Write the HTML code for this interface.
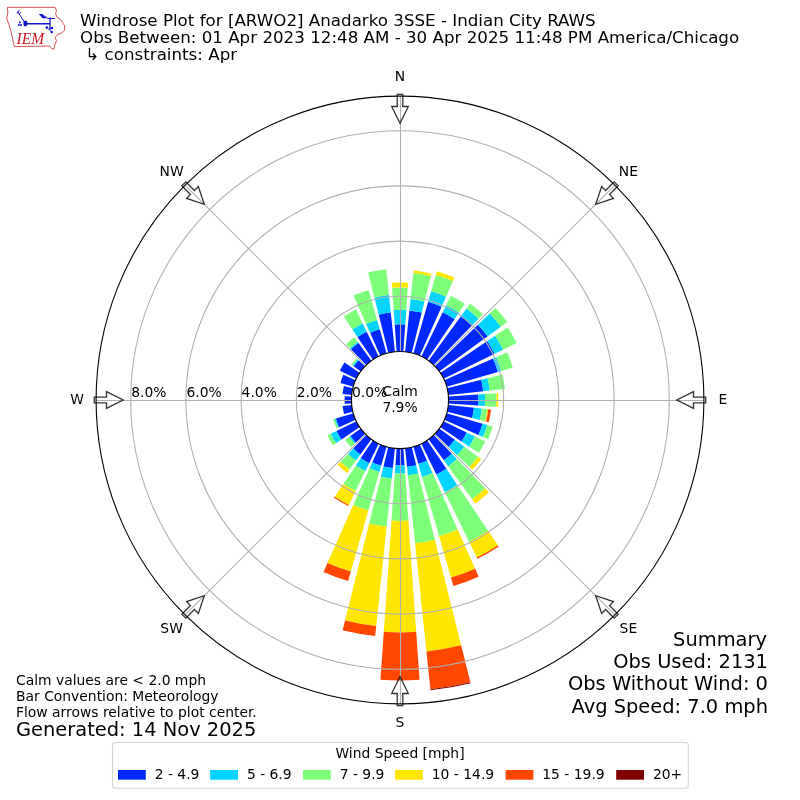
<!DOCTYPE html>
<html><head><meta charset="utf-8"><title>Windrose Plot</title>
<style>html,body{margin:0;padding:0;background:#fff}svg{display:block}text{font-family:"DejaVu Sans","Liberation Sans",sans-serif;fill:#000}</style>
</head><body>
<svg width="800" height="800" viewBox="0 0 800 800">
<rect width="800" height="800" fill="#fff"/>
<g shape-rendering="geometricPrecision">
<path d="M396.62 351.62L394.72 324.48A75.70 75.70 0 0 1 405.28 324.48L403.38 351.62A48.50 48.50 0 0 0 396.62 351.62Z" fill="#0028ff"/>
<path d="M394.72 324.48L393.71 310.12A90.10 90.10 0 0 1 406.29 310.12L405.28 324.48A75.70 75.70 0 0 0 394.72 324.48Z" fill="#00d4ff"/>
<path d="M393.71 310.12L392.15 287.77A112.50 112.50 0 0 1 407.85 287.77L406.29 310.12A90.10 90.10 0 0 0 393.71 310.12Z" fill="#7dff7a"/>
<path d="M392.15 287.77L391.80 282.69A117.60 117.60 0 0 1 408.20 282.69L407.85 287.77A112.50 112.50 0 0 0 392.15 287.77Z" fill="#ffe600"/>
<path d="M405.07 351.77L409.42 310.39A90.10 90.10 0 0 1 421.80 312.58L411.73 352.94A48.50 48.50 0 0 0 405.07 351.77Z" fill="#0028ff"/>
<path d="M409.42 310.39L410.62 298.96A101.60 101.60 0 0 1 424.58 301.42L421.80 312.58A90.10 90.10 0 0 0 409.42 310.39Z" fill="#00d4ff"/>
<path d="M410.62 298.96L413.34 273.10A127.60 127.60 0 0 1 430.87 276.19L424.58 301.42A101.60 101.60 0 0 0 410.62 298.96Z" fill="#7dff7a"/>
<path d="M413.34 273.10L413.60 270.61A130.10 130.10 0 0 1 431.47 273.76L430.87 276.19A127.60 127.60 0 0 0 413.34 273.10Z" fill="#ffe600"/>
<path d="M413.37 353.38L428.17 301.76A102.20 102.20 0 0 1 441.57 306.64L419.73 355.69A48.50 48.50 0 0 0 413.37 353.38Z" fill="#0028ff"/>
<path d="M428.17 301.76L431.17 291.28A113.10 113.10 0 0 1 446.00 296.68L441.57 306.64A102.20 102.20 0 0 0 428.17 301.76Z" fill="#00d4ff"/>
<path d="M431.17 291.28L435.86 274.94A130.10 130.10 0 0 1 452.92 281.15L446.00 296.68A113.10 113.10 0 0 0 431.17 291.28Z" fill="#7dff7a"/>
<path d="M435.86 274.94L436.94 271.19A134.00 134.00 0 0 1 454.50 277.58L452.92 281.15A130.10 130.10 0 0 0 435.86 274.94Z" fill="#ffe600"/>
<path d="M421.26 356.41L442.74 312.37A97.50 97.50 0 0 1 454.52 319.17L427.12 359.79A48.50 48.50 0 0 0 421.26 356.41Z" fill="#0028ff"/>
<path d="M442.74 312.37L446.20 305.27A105.40 105.40 0 0 1 458.94 312.62L454.52 319.17A97.50 97.50 0 0 0 442.74 312.37Z" fill="#00d4ff"/>
<path d="M446.20 305.27L450.81 295.83A115.90 115.90 0 0 1 464.81 303.91L458.94 312.62A105.40 105.40 0 0 0 446.20 305.27Z" fill="#7dff7a"/>
<path d="M428.51 360.76L461.07 315.94A103.90 103.90 0 0 1 472.18 325.26L433.69 365.11A48.50 48.50 0 0 0 428.51 360.76Z" fill="#0028ff"/>
<path d="M461.07 315.94L466.48 308.50A113.10 113.10 0 0 1 478.57 318.64L472.18 325.26A103.90 103.90 0 0 0 461.07 315.94Z" fill="#00d4ff"/>
<path d="M466.48 308.50L470.12 303.48A119.30 119.30 0 0 1 482.87 314.18L478.57 318.64A113.10 113.10 0 0 0 466.48 308.50Z" fill="#7dff7a"/>
<path d="M434.89 366.31L477.90 324.77A108.30 108.30 0 0 1 487.62 336.34L439.24 371.49A48.50 48.50 0 0 0 434.89 366.31Z" fill="#0028ff"/>
<path d="M477.90 324.77L489.70 313.38A124.70 124.70 0 0 1 500.88 326.70L487.62 336.34A108.30 108.30 0 0 0 477.90 324.77Z" fill="#00d4ff"/>
<path d="M489.70 313.38L495.38 307.89A132.60 132.60 0 0 1 507.28 322.06L500.88 326.70A124.70 124.70 0 0 0 489.70 313.38Z" fill="#7dff7a"/>
<path d="M440.21 372.88L487.30 341.12A105.30 105.30 0 0 1 494.64 353.84L443.59 378.74A48.50 48.50 0 0 0 440.21 372.88Z" fill="#0028ff"/>
<path d="M487.30 341.12L495.09 335.86A114.70 114.70 0 0 1 503.09 349.72L494.64 353.84A105.30 105.30 0 0 0 487.30 341.12Z" fill="#00d4ff"/>
<path d="M495.09 335.86L507.61 327.42A129.80 129.80 0 0 1 516.66 343.10L503.09 349.72A114.70 114.70 0 0 0 495.09 335.86Z" fill="#7dff7a"/>
<path d="M444.31 380.27L493.00 358.59A101.80 101.80 0 0 1 497.86 371.94L446.62 386.63A48.50 48.50 0 0 0 444.31 380.27Z" fill="#0028ff"/>
<path d="M493.00 358.59L496.29 357.13A105.40 105.40 0 0 1 501.32 370.95L497.86 371.94A101.80 101.80 0 0 0 493.00 358.59Z" fill="#00d4ff"/>
<path d="M496.29 357.13L507.16 352.29A117.30 117.30 0 0 1 512.76 367.67L501.32 370.95A105.40 105.40 0 0 0 496.29 357.13Z" fill="#7dff7a"/>
<path d="M447.06 388.27L481.21 379.75A83.70 83.70 0 0 1 483.24 391.25L448.23 394.93A48.50 48.50 0 0 0 447.06 388.27Z" fill="#0028ff"/>
<path d="M481.21 379.75L487.62 378.15A90.30 90.30 0 0 1 489.81 390.56L483.24 391.25A83.70 83.70 0 0 0 481.21 379.75Z" fill="#00d4ff"/>
<path d="M487.62 378.15L502.46 374.45A105.60 105.60 0 0 1 505.02 388.96L489.81 390.56A90.30 90.30 0 0 0 487.62 378.15Z" fill="#7dff7a"/>
<path d="M448.38 396.62L478.21 394.53A78.40 78.40 0 0 1 478.21 405.47L448.38 403.38A48.50 48.50 0 0 0 448.38 396.62Z" fill="#0028ff"/>
<path d="M478.21 394.53L484.89 394.06A85.10 85.10 0 0 1 484.89 405.94L478.21 405.47A78.40 78.40 0 0 0 478.21 394.53Z" fill="#00d4ff"/>
<path d="M484.89 394.06L496.26 393.27A96.50 96.50 0 0 1 496.26 406.73L484.89 405.94A85.10 85.10 0 0 0 484.89 394.06Z" fill="#7dff7a"/>
<path d="M496.26 393.27L498.16 393.14A98.40 98.40 0 0 1 498.16 406.86L496.26 406.73A96.50 96.50 0 0 0 496.26 393.27Z" fill="#ffe600"/>
<path d="M448.23 405.07L473.99 407.78A74.40 74.40 0 0 1 472.19 418.00L447.06 411.73A48.50 48.50 0 0 0 448.23 405.07Z" fill="#0028ff"/>
<path d="M473.99 407.78L481.75 408.59A82.20 82.20 0 0 1 479.76 419.89L472.19 418.00A74.40 74.40 0 0 0 473.99 407.78Z" fill="#00d4ff"/>
<path d="M481.75 408.59L487.12 409.16A87.60 87.60 0 0 1 485.00 421.19L479.76 419.89A82.20 82.20 0 0 0 481.75 408.59Z" fill="#7dff7a"/>
<path d="M487.12 409.16L488.21 409.27A88.70 88.70 0 0 1 486.07 421.46L485.00 421.19A87.60 87.60 0 0 0 487.12 409.16Z" fill="#ffe600"/>
<path d="M488.21 409.27L491.00 409.56A91.50 91.50 0 0 1 488.78 422.14L486.07 421.46A88.70 88.70 0 0 0 488.21 409.27Z" fill="#ff4700"/>
<path d="M446.62 413.37L482.57 423.68A85.90 85.90 0 0 1 478.47 434.94L444.31 419.73A48.50 48.50 0 0 0 446.62 413.37Z" fill="#0028ff"/>
<path d="M482.57 423.68L487.28 425.03A90.80 90.80 0 0 1 482.95 436.93L478.47 434.94A85.90 85.90 0 0 0 482.57 423.68Z" fill="#00d4ff"/>
<path d="M487.28 425.03L492.76 426.60A96.50 96.50 0 0 1 488.16 439.25L482.95 436.93A90.80 90.80 0 0 0 487.28 425.03Z" fill="#7dff7a"/>
<path d="M443.59 421.26L466.69 432.53A74.20 74.20 0 0 1 461.51 441.49L440.21 427.12A48.50 48.50 0 0 0 443.59 421.26Z" fill="#0028ff"/>
<path d="M466.69 432.53L475.05 436.60A83.50 83.50 0 0 1 469.22 446.69L461.51 441.49A74.20 74.20 0 0 0 466.69 432.53Z" fill="#00d4ff"/>
<path d="M475.05 436.60L485.30 441.60A94.90 94.90 0 0 1 478.68 453.07L469.22 446.69A83.50 83.50 0 0 0 475.05 436.60Z" fill="#7dff7a"/>
<path d="M439.24 428.51L454.77 439.79A67.70 67.70 0 0 1 448.70 447.03L434.89 433.69A48.50 48.50 0 0 0 439.24 428.51Z" fill="#0028ff"/>
<path d="M454.77 439.79L464.24 446.67A79.40 79.40 0 0 1 457.12 455.16L448.70 447.03A67.70 67.70 0 0 0 454.77 439.79Z" fill="#00d4ff"/>
<path d="M464.24 446.67L478.15 456.78A96.60 96.60 0 0 1 469.49 467.10L457.12 455.16A79.40 79.40 0 0 0 464.24 446.67Z" fill="#7dff7a"/>
<path d="M478.15 456.78L481.31 459.07A100.50 100.50 0 0 1 472.29 469.81L469.49 467.10A96.60 96.60 0 0 0 478.15 456.78Z" fill="#ffe600"/>
<path d="M433.69 434.89L451.82 453.66A74.60 74.60 0 0 1 443.85 460.35L428.51 439.24A48.50 48.50 0 0 0 433.69 434.89Z" fill="#0028ff"/>
<path d="M451.82 453.66L456.89 458.91A81.90 81.90 0 0 1 448.14 466.26L443.85 460.35A74.60 74.60 0 0 0 451.82 453.66Z" fill="#00d4ff"/>
<path d="M456.89 458.91L485.30 488.33A122.80 122.80 0 0 1 472.18 499.35L448.14 466.26A81.90 81.90 0 0 0 456.89 458.91Z" fill="#7dff7a"/>
<path d="M485.30 488.33L488.99 492.15A128.10 128.10 0 0 1 475.30 503.64L472.18 499.35A122.80 122.80 0 0 0 485.30 488.33Z" fill="#ffe600"/>
<path d="M427.12 440.21L446.36 468.73A82.90 82.90 0 0 1 436.34 474.51L421.26 443.59A48.50 48.50 0 0 0 427.12 440.21Z" fill="#0028ff"/>
<path d="M446.36 468.73L457.32 484.98A102.50 102.50 0 0 1 444.93 492.13L436.34 474.51A82.90 82.90 0 0 0 446.36 468.73Z" fill="#00d4ff"/>
<path d="M457.32 484.98L488.13 530.66A157.60 157.60 0 0 1 469.09 541.65L444.93 492.13A102.50 102.50 0 0 0 457.32 484.98Z" fill="#7dff7a"/>
<path d="M488.13 530.66L497.91 545.16A175.10 175.10 0 0 1 476.76 557.38L469.09 541.65A157.60 157.60 0 0 0 488.13 530.66Z" fill="#ffe600"/>
<path d="M497.91 545.16L498.75 546.41A176.60 176.60 0 0 1 477.42 558.73L476.76 557.38A175.10 175.10 0 0 0 497.91 545.16Z" fill="#ff4700"/>
<path d="M419.73 444.31L427.01 460.66A66.40 66.40 0 0 1 418.30 463.83L413.37 446.62A48.50 48.50 0 0 0 419.73 444.31Z" fill="#0028ff"/>
<path d="M427.01 460.66L432.54 473.08A80.00 80.00 0 0 1 422.05 476.90L418.30 463.83A66.40 66.40 0 0 0 427.01 460.66Z" fill="#00d4ff"/>
<path d="M432.54 473.08L457.68 529.54A141.80 141.80 0 0 1 439.09 536.31L422.05 476.90A80.00 80.00 0 0 0 432.54 473.08Z" fill="#7dff7a"/>
<path d="M457.68 529.54L475.12 568.73A184.70 184.70 0 0 1 450.91 577.55L439.09 536.31A141.80 141.80 0 0 0 457.68 529.54Z" fill="#ffe600"/>
<path d="M475.12 568.73L478.74 576.86A193.60 193.60 0 0 1 453.36 586.10L450.91 577.55A184.70 184.70 0 0 0 475.12 568.73Z" fill="#ff4700"/>
<path d="M411.73 447.06L416.26 465.20A67.20 67.20 0 0 1 407.02 466.83L405.07 448.23A48.50 48.50 0 0 0 411.73 447.06Z" fill="#0028ff"/>
<path d="M416.26 465.20L418.31 473.45A75.70 75.70 0 0 1 407.91 475.29L407.02 466.83A67.20 67.20 0 0 0 416.26 465.20Z" fill="#00d4ff"/>
<path d="M418.31 473.45L434.84 539.72A144.00 144.00 0 0 1 415.05 543.21L407.91 475.29A75.70 75.70 0 0 0 418.31 473.45Z" fill="#7dff7a"/>
<path d="M434.84 539.72L461.16 645.29A252.80 252.80 0 0 1 426.42 651.42L415.05 543.21A144.00 144.00 0 0 0 434.84 539.72Z" fill="#ffe600"/>
<path d="M461.16 645.29L470.38 682.26A290.90 290.90 0 0 1 430.41 689.31L426.42 651.42A252.80 252.80 0 0 0 461.16 645.29Z" fill="#ff4700"/>
<path d="M470.38 682.26L470.62 683.23A291.90 291.90 0 0 1 430.51 690.30L430.41 689.31A290.90 290.90 0 0 0 470.38 682.26Z" fill="#800000"/>
<path d="M403.38 448.38L404.56 465.24A65.40 65.40 0 0 1 395.44 465.24L396.62 448.38A48.50 48.50 0 0 0 403.38 448.38Z" fill="#0028ff"/>
<path d="M404.56 465.24L405.13 473.32A73.50 73.50 0 0 1 394.87 473.32L395.44 465.24A65.40 65.40 0 0 0 404.56 465.24Z" fill="#00d4ff"/>
<path d="M405.13 473.32L408.43 520.61A120.90 120.90 0 0 1 391.57 520.61L394.87 473.32A73.50 73.50 0 0 0 405.13 473.32Z" fill="#7dff7a"/>
<path d="M408.43 520.61L416.21 631.83A232.40 232.40 0 0 1 383.79 631.83L391.57 520.61A120.90 120.90 0 0 0 408.43 520.61Z" fill="#ffe600"/>
<path d="M416.21 631.83L419.57 679.82A280.50 280.50 0 0 1 380.43 679.82L383.79 631.83A232.40 232.40 0 0 0 416.21 631.83Z" fill="#ff4700"/>
<path d="M394.93 448.23L392.84 468.12A68.50 68.50 0 0 1 383.43 466.47L388.27 447.06A48.50 48.50 0 0 0 394.93 448.23Z" fill="#0028ff"/>
<path d="M392.84 468.12L391.75 478.47A78.90 78.90 0 0 1 380.91 476.56L383.43 466.47A68.50 68.50 0 0 0 392.84 468.12Z" fill="#00d4ff"/>
<path d="M391.75 478.47L386.69 526.60A127.30 127.30 0 0 1 369.20 523.52L380.91 476.56A78.90 78.90 0 0 0 391.75 478.47Z" fill="#7dff7a"/>
<path d="M386.69 526.60L376.25 625.96A227.20 227.20 0 0 1 345.04 620.45L369.20 523.52A127.30 127.30 0 0 0 386.69 526.60Z" fill="#ffe600"/>
<path d="M376.25 625.96L375.20 636.00A237.30 237.30 0 0 1 342.59 630.25L345.04 620.45A227.20 227.20 0 0 0 376.25 625.96Z" fill="#ff4700"/>
<path d="M386.63 446.62L381.17 465.65A68.30 68.30 0 0 1 372.22 462.40L380.27 444.31A48.50 48.50 0 0 0 386.63 446.62Z" fill="#0028ff"/>
<path d="M381.17 465.65L379.38 471.90A74.80 74.80 0 0 1 369.58 468.33L372.22 462.40A68.30 68.30 0 0 0 381.17 465.65Z" fill="#00d4ff"/>
<path d="M379.38 471.90L368.36 510.35A114.80 114.80 0 0 1 353.31 504.88L369.58 468.33A74.80 74.80 0 0 0 379.38 471.90Z" fill="#7dff7a"/>
<path d="M368.36 510.35L350.85 571.39A178.30 178.30 0 0 1 327.48 562.89L353.31 504.88A114.80 114.80 0 0 0 368.36 510.35Z" fill="#ffe600"/>
<path d="M350.85 571.39L348.13 580.91A188.20 188.20 0 0 1 323.45 571.93L327.48 562.89A178.30 178.30 0 0 0 350.85 571.39Z" fill="#ff4700"/>
<path d="M378.74 443.59L369.14 463.28A70.40 70.40 0 0 1 360.63 458.36L372.88 440.21A48.50 48.50 0 0 0 378.74 443.59Z" fill="#0028ff"/>
<path d="M369.14 463.28L365.41 470.91A78.90 78.90 0 0 1 355.88 465.41L360.63 458.36A70.40 70.40 0 0 0 369.14 463.28Z" fill="#00d4ff"/>
<path d="M365.41 470.91L355.59 491.05A101.30 101.30 0 0 1 343.35 483.98L355.88 465.41A78.90 78.90 0 0 0 365.41 470.91Z" fill="#7dff7a"/>
<path d="M355.59 491.05L348.80 504.98A116.80 116.80 0 0 1 334.69 496.83L343.35 483.98A101.30 101.30 0 0 0 355.59 491.05Z" fill="#ffe600"/>
<path d="M348.80 504.98L348.32 505.97A117.90 117.90 0 0 1 334.07 497.74L334.69 496.83A116.80 116.80 0 0 0 348.80 504.98Z" fill="#ff4700"/>
<path d="M371.49 439.24L360.38 454.53A67.40 67.40 0 0 1 353.18 448.48L366.31 434.89A48.50 48.50 0 0 0 371.49 439.24Z" fill="#0028ff"/>
<path d="M360.38 454.53L355.97 460.60A74.90 74.90 0 0 1 347.97 453.88L353.18 448.48A67.40 67.40 0 0 0 360.38 454.53Z" fill="#00d4ff"/>
<path d="M355.97 460.60L349.63 469.33A85.70 85.70 0 0 1 340.47 461.65L347.97 453.88A74.90 74.90 0 0 0 355.97 460.60Z" fill="#7dff7a"/>
<path d="M349.63 469.33L347.04 472.89A90.10 90.10 0 0 1 337.41 464.81L340.47 461.65A85.70 85.70 0 0 0 349.63 469.33Z" fill="#ffe600"/>
<path d="M365.11 433.69L355.83 442.65A61.40 61.40 0 0 1 350.33 436.09L360.76 428.51A48.50 48.50 0 0 0 365.11 433.69Z" fill="#0028ff"/>
<path d="M355.83 442.65L354.83 443.62A62.80 62.80 0 0 1 349.19 436.91L350.33 436.09A61.40 61.40 0 0 0 355.83 442.65Z" fill="#00d4ff"/>
<path d="M354.83 443.62L351.16 447.17A67.90 67.90 0 0 1 345.07 439.91L349.19 436.91A62.80 62.80 0 0 0 354.83 443.62Z" fill="#7dff7a"/>
<path d="M359.79 427.12L341.47 439.48A70.60 70.60 0 0 1 336.55 430.95L356.41 421.26A48.50 48.50 0 0 0 359.79 427.12Z" fill="#0028ff"/>
<path d="M341.47 439.48L336.08 443.11A77.10 77.10 0 0 1 330.70 433.80L336.55 430.95A70.60 70.60 0 0 0 341.47 439.48Z" fill="#00d4ff"/>
<path d="M336.08 443.11L333.01 445.18A80.80 80.80 0 0 1 327.38 435.42L330.70 433.80A77.10 77.10 0 0 0 336.08 443.11Z" fill="#7dff7a"/>
<path d="M355.69 419.73L339.07 427.13A66.70 66.70 0 0 1 335.88 418.39L353.38 413.37A48.50 48.50 0 0 0 355.69 419.73Z" fill="#0028ff"/>
<path d="M339.07 427.13L337.97 427.62A67.90 67.90 0 0 1 334.73 418.72L335.88 418.39A66.70 66.70 0 0 0 339.07 427.13Z" fill="#00d4ff"/>
<path d="M337.97 427.62L336.42 428.31A69.60 69.60 0 0 1 333.10 419.18L334.73 418.72A67.90 67.90 0 0 0 337.97 427.62Z" fill="#7dff7a"/>
<path d="M352.94 411.73L344.01 413.96A57.70 57.70 0 0 1 342.62 406.03L351.77 405.07A48.50 48.50 0 0 0 352.94 411.73Z" fill="#0028ff"/>
<path d="M351.62 403.38L344.73 403.86A55.40 55.40 0 0 1 344.73 396.14L351.62 396.62A48.50 48.50 0 0 0 351.62 403.38Z" fill="#0028ff"/>
<path d="M351.77 394.93L342.52 393.96A57.80 57.80 0 0 1 343.92 386.02L352.94 388.27A48.50 48.50 0 0 0 351.77 394.93Z" fill="#0028ff"/>
<path d="M353.38 386.63L340.40 382.91A62.00 62.00 0 0 1 343.36 374.78L355.69 380.27A48.50 48.50 0 0 0 353.38 386.63Z" fill="#0028ff"/>
<path d="M356.41 378.74L339.87 370.67A66.90 66.90 0 0 1 344.54 362.59L359.79 372.88A48.50 48.50 0 0 0 356.41 378.74Z" fill="#0028ff"/>
<path d="M360.76 371.49L353.56 366.26A57.40 57.40 0 0 1 358.71 360.13L365.11 366.31A48.50 48.50 0 0 0 360.76 371.49Z" fill="#0028ff"/>
<path d="M353.56 366.26L352.59 365.56A58.60 58.60 0 0 1 357.85 359.29L358.71 360.13A57.40 57.40 0 0 0 353.56 366.26Z" fill="#00d4ff"/>
<path d="M352.59 365.56L351.30 364.62A60.20 60.20 0 0 1 356.70 358.18L357.85 359.29A58.60 58.60 0 0 0 352.59 365.56Z" fill="#7dff7a"/>
<path d="M366.31 365.11L350.96 349.21A70.60 70.60 0 0 1 358.50 342.88L371.49 360.76A48.50 48.50 0 0 0 366.31 365.11Z" fill="#0028ff"/>
<path d="M350.96 349.21L349.92 348.14A72.10 72.10 0 0 1 357.62 341.67L358.50 342.88A70.60 70.60 0 0 0 350.96 349.21Z" fill="#00d4ff"/>
<path d="M349.92 348.14L346.09 344.18A77.60 77.60 0 0 1 354.39 337.22L357.62 341.67A72.10 72.10 0 0 0 349.92 348.14Z" fill="#7dff7a"/>
<path d="M372.88 359.79L357.50 336.99A76.00 76.00 0 0 1 366.68 331.69L378.74 356.41A48.50 48.50 0 0 0 372.88 359.79Z" fill="#0028ff"/>
<path d="M357.50 336.99L352.41 329.45A85.10 85.10 0 0 1 362.69 323.51L366.68 331.69A76.00 76.00 0 0 0 357.50 336.99Z" fill="#00d4ff"/>
<path d="M352.41 329.45L343.75 316.60A100.60 100.60 0 0 1 355.90 309.58L362.69 323.51A85.10 85.10 0 0 0 352.41 329.45Z" fill="#7dff7a"/>
<path d="M380.27 355.69L370.10 332.85A73.50 73.50 0 0 1 379.74 329.35L386.63 353.38A48.50 48.50 0 0 0 380.27 355.69Z" fill="#0028ff"/>
<path d="M370.10 332.85L366.12 323.90A83.30 83.30 0 0 1 377.04 319.93L379.74 329.35A73.50 73.50 0 0 0 370.10 332.85Z" fill="#00d4ff"/>
<path d="M366.12 323.90L353.47 295.49A114.40 114.40 0 0 1 368.47 290.03L377.04 319.93A83.30 83.30 0 0 0 366.12 323.90Z" fill="#7dff7a"/>
<path d="M388.27 352.94L378.74 314.71A87.90 87.90 0 0 1 390.81 312.58L394.93 351.77A48.50 48.50 0 0 0 388.27 352.94Z" fill="#0028ff"/>
<path d="M378.74 314.71L374.43 297.44A105.70 105.70 0 0 1 388.95 294.88L390.81 312.58A87.90 87.90 0 0 0 378.74 314.71Z" fill="#00d4ff"/>
<path d="M374.43 297.44L368.21 272.50A131.40 131.40 0 0 1 386.26 269.32L388.95 294.88A105.70 105.70 0 0 0 374.43 297.44Z" fill="#7dff7a"/>
</g>
<g fill="none" stroke="#b0b0b0" stroke-width="1.1">
<circle cx="400.0" cy="400.0" r="103.70"/>
<circle cx="400.0" cy="400.0" r="158.90"/>
<circle cx="400.0" cy="400.0" r="214.10"/>
<circle cx="400.0" cy="400.0" r="269.30"/>
<line x1="400.50" y1="351.50" x2="400.50" y2="96.10"/>
<line x1="434.29" y1="365.71" x2="614.89" y2="185.11"/>
<line x1="448.50" y1="400.50" x2="703.90" y2="400.50"/>
<line x1="434.29" y1="434.29" x2="614.89" y2="614.89"/>
<line x1="400.50" y1="448.50" x2="400.50" y2="703.90"/>
<line x1="365.71" y1="434.29" x2="185.11" y2="614.89"/>
<line x1="351.50" y1="400.50" x2="96.10" y2="400.50"/>
<line x1="365.71" y1="365.71" x2="185.11" y2="185.11"/>
</g>
<circle cx="400.0" cy="400.0" r="48.55" fill="#fff" stroke="#000" stroke-width="1.15"/>
<circle cx="400.0" cy="400.0" r="303.9" fill="none" stroke="#000" stroke-width="1.1"/>
<path transform="translate(400.0 400.0) rotate(0)" d="M-2.78 -305.7L2.78 -305.7L2.78 -293.5L8.35 -293.5L0 -276.8L-8.35 -293.5L-2.78 -293.5Z" fill="none" stroke="#000" stroke-opacity="0.8" stroke-width="1.3" stroke-linejoin="miter"/>
<path transform="translate(400.0 400.0) rotate(45)" d="M-2.78 -305.7L2.78 -305.7L2.78 -293.5L8.35 -293.5L0 -276.8L-8.35 -293.5L-2.78 -293.5Z" fill="none" stroke="#000" stroke-opacity="0.8" stroke-width="1.3" stroke-linejoin="miter"/>
<path transform="translate(400.0 400.0) rotate(90)" d="M-2.78 -305.7L2.78 -305.7L2.78 -293.5L8.35 -293.5L0 -276.8L-8.35 -293.5L-2.78 -293.5Z" fill="none" stroke="#000" stroke-opacity="0.8" stroke-width="1.3" stroke-linejoin="miter"/>
<path transform="translate(400.0 400.0) rotate(135)" d="M-2.78 -305.7L2.78 -305.7L2.78 -293.5L8.35 -293.5L0 -276.8L-8.35 -293.5L-2.78 -293.5Z" fill="none" stroke="#000" stroke-opacity="0.8" stroke-width="1.3" stroke-linejoin="miter"/>
<path transform="translate(400.0 400.0) rotate(180)" d="M-2.78 -305.7L2.78 -305.7L2.78 -293.5L8.35 -293.5L0 -276.8L-8.35 -293.5L-2.78 -293.5Z" fill="none" stroke="#000" stroke-opacity="0.8" stroke-width="1.3" stroke-linejoin="miter"/>
<path transform="translate(400.0 400.0) rotate(225)" d="M-2.78 -305.7L2.78 -305.7L2.78 -293.5L8.35 -293.5L0 -276.8L-8.35 -293.5L-2.78 -293.5Z" fill="none" stroke="#000" stroke-opacity="0.8" stroke-width="1.3" stroke-linejoin="miter"/>
<path transform="translate(400.0 400.0) rotate(270)" d="M-2.78 -305.7L2.78 -305.7L2.78 -293.5L8.35 -293.5L0 -276.8L-8.35 -293.5L-2.78 -293.5Z" fill="none" stroke="#000" stroke-opacity="0.8" stroke-width="1.3" stroke-linejoin="miter"/>
<path transform="translate(400.0 400.0) rotate(315)" d="M-2.78 -305.7L2.78 -305.7L2.78 -293.5L8.35 -293.5L0 -276.8L-8.35 -293.5L-2.78 -293.5Z" fill="none" stroke="#000" stroke-opacity="0.8" stroke-width="1.3" stroke-linejoin="miter"/>
<text x="400.0" y="81.1" font-size="13.89" text-anchor="middle">N</text>
<text x="628.4" y="175.7" font-size="13.89" text-anchor="middle">NE</text>
<text x="723.0" y="404.1" font-size="13.89" text-anchor="middle">E</text>
<text x="628.4" y="632.5" font-size="13.89" text-anchor="middle">SE</text>
<text x="400.0" y="727.1" font-size="13.89" text-anchor="middle">S</text>
<text x="171.6" y="632.5" font-size="13.89" text-anchor="middle">SW</text>
<text x="77.0" y="404.1" font-size="13.89" text-anchor="middle">W</text>
<text x="171.6" y="175.7" font-size="13.89" text-anchor="middle">NW</text>
<text x="352.0" y="397.3" font-size="13.89">0.0%</text>
<text x="296.8" y="397.3" font-size="13.89">2.0%</text>
<text x="241.6" y="397.3" font-size="13.89">4.0%</text>
<text x="186.4" y="397.3" font-size="13.89">6.0%</text>
<text x="131.2" y="397.3" font-size="13.89">8.0%</text>
<text x="400" y="396.3" font-size="13.89" text-anchor="middle">Calm</text>
<text x="400" y="411.7" font-size="13.89" text-anchor="middle">7.9%</text>
<text x="80" y="25.6" font-size="16.7">Windrose Plot for [ARWO2] Anadarko 3SSE - Indian City RAWS</text>
<text x="80" y="42.8" font-size="16.7">Obs Between: 01 Apr 2023 12:48 AM - 30 Apr 2025 11:48 PM America/Chicago</text>
<text x="85.3" y="60.2" font-size="16.7">↳ constraints: Apr</text>
<text x="16" y="685" font-size="13.89">Calm values are &lt; 2.0 mph</text>
<text x="16" y="701" font-size="13.89">Bar Convention: Meteorology</text>
<text x="16" y="717" font-size="13.89">Flow arrows relative to plot center.</text>
<text x="16" y="736" font-size="19.44">Generated: 14 Nov 2025</text>
<text x="767" y="646.0" font-size="19.44" text-anchor="end">Summary</text>
<text x="768" y="668.2" font-size="19.44" text-anchor="end">Obs Used: 2131</text>
<text x="768" y="690.4" font-size="19.44" text-anchor="end">Obs Without Wind: 0</text>
<text x="768" y="712.6" font-size="19.44" text-anchor="end">Avg Speed: 7.0 mph</text>
<rect x="112.5" y="742.5" width="575.8" height="45.8" rx="2.8" ry="2.8" fill="#fff" fill-opacity="0.8" stroke="#ccc" stroke-opacity="0.8" stroke-width="1.1"/>
<text x="400" y="758" font-size="13.89" text-anchor="middle">Wind Speed [mph]</text>
<rect x="118" y="770" width="27.8" height="9.7" fill="#0028ff"/>
<text x="154.7" y="779" font-size="13.89">2 - 4.9</text>
<rect x="210.2" y="770" width="27.8" height="9.7" fill="#00d4ff"/>
<text x="246.9" y="779" font-size="13.89">5 - 6.9</text>
<rect x="303.0" y="770" width="27.8" height="9.7" fill="#7dff7a"/>
<text x="339.7" y="779" font-size="13.89">7 - 9.9</text>
<rect x="395.1" y="770" width="27.8" height="9.7" fill="#ffe600"/>
<text x="431.8" y="779" font-size="13.89">10 - 14.9</text>
<rect x="505.6" y="770" width="27.8" height="9.7" fill="#ff4700"/>
<text x="542.3" y="779" font-size="13.89">15 - 19.9</text>
<rect x="616.2" y="770" width="27.8" height="9.7" fill="#800000"/>
<text x="652.9" y="779" font-size="13.89">20+</text>
<g id="logo">
<polygon points="7.3,7.3 55.0,7.3 56.5,10.6 55.6,13.6 56.9,17.1 60.0,18.9 62.6,22.8 64.8,25.9 64.4,30.2 61.7,32.9 57.4,34.6 55.2,37.7 56.5,40.7 54.7,45.1 53.9,49.1 51.7,48.6 49.9,46.0 14.5,46.6 13.6,43.4 12.3,37.2 10.6,30.2 8.8,24.1 6.6,18.0 7.9,12.7" fill="none" stroke="#d43c3c" stroke-width="0.9" stroke-linejoin="round"/>
<text transform="translate(16.6 43.8) scale(0.89 1)" x="0" y="0" font-size="17.4" style="font-family:'Liberation Serif','DejaVu Serif',serif;font-style:italic;fill:#c8191e">IEM</text>
<ellipse cx="25.4" cy="23.4" rx="2.0" ry="2.8" fill="#1414c8"/>
<line x1="25.4" y1="23.8" x2="49.5" y2="23.8" stroke="#1414c8" stroke-width="1.6" stroke-linecap="round"/>
<line x1="50.0" y1="18.0" x2="50.0" y2="30.2" stroke="#1414c8" stroke-width="1.3" stroke-linecap="round"/>
<line x1="47.7" y1="18.5" x2="54.6" y2="18.5" stroke="#1414c8" stroke-width="1.0" stroke-linecap="round"/>
<line x1="25.4" y1="23.4" x2="17.8" y2="11.9" stroke="#1414c8" stroke-width="1.0" stroke-linecap="round"/>
<line x1="17.8" y1="11.9" x2="17.1" y2="13.4" stroke="#1414c8" stroke-width="0.8" stroke-linecap="round"/>
<line x1="19.3" y1="14.1" x2="20.8" y2="12.3" stroke="#1414c8" stroke-width="0.8" stroke-linecap="round"/>
<line x1="18.0" y1="12.0" x2="19.0" y2="10.3" stroke="#1414c8" stroke-width="0.8" stroke-linecap="round"/>
<polygon points="38.8,13.9 42.1,14.1 47.7,18.0 42.9,18.4" fill="#1414c8"/>
<circle cx="19.8" cy="22.4" r="1.0" fill="#1414c8"/>
<circle cx="18.8" cy="25.0" r="1.0" fill="#1414c8"/>
<circle cx="21.0" cy="25.0" r="1.0" fill="#1414c8"/>
<circle cx="46.9" cy="27.6" r="1.3" fill="#1414c8"/>
<circle cx="52.0" cy="28.0" r="1.3" fill="#1414c8"/>
<circle cx="51.7" cy="32.0" r="1.3" fill="#1414c8"/>
<circle cx="49.3" cy="28.9" r="0.9" fill="#1414c8"/>
</g>
</svg></body></html>
